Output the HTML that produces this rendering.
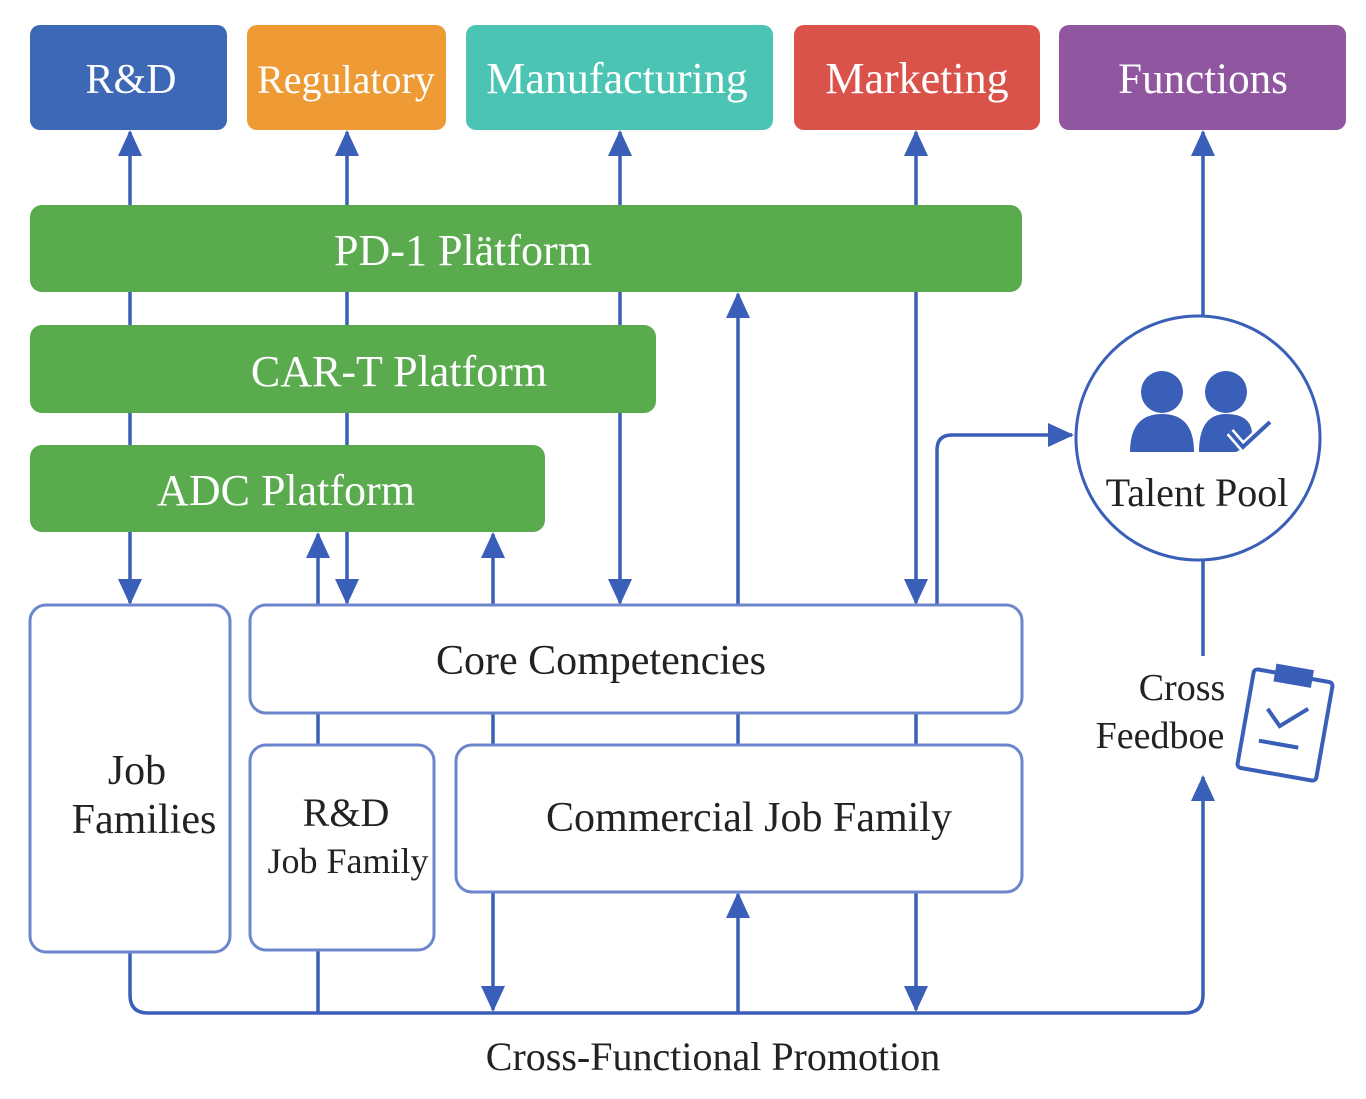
<!DOCTYPE html><html><head><style>body{margin:0;background:#fff}svg{display:block}text{font-family:"Liberation Serif",serif}</style></head><body>
<svg width="1366" height="1099" viewBox="0 0 1366 1099">
<defs>
<marker id="b" markerWidth="26" markerHeight="24" refX="24" refY="12" orient="auto" markerUnits="userSpaceOnUse"><path d="M0,0L26,12L0,24z" fill="#3a5fb8"/></marker></defs>
<g stroke="#3a5fb8" stroke-width="3.5" fill="none">
<line x1="130" y1="205" x2="130" y2="132" marker-end="url(#b)"/>
<line x1="347" y1="205" x2="347" y2="132" marker-end="url(#b)"/>
<line x1="620" y1="205" x2="620" y2="132" marker-end="url(#b)"/>
<line x1="916" y1="205" x2="916" y2="132" marker-end="url(#b)"/>
<line x1="1203" y1="316" x2="1203" y2="132" marker-end="url(#b)"/>
<line x1="130" y1="290" x2="130" y2="450"/>
<line x1="347" y1="290" x2="347" y2="450"/>
<line x1="130" y1="532" x2="130" y2="603" marker-end="url(#b)"/>
<line x1="347" y1="532" x2="347" y2="603" marker-end="url(#b)"/>
<line x1="620" y1="290" x2="620" y2="603" marker-end="url(#b)"/>
<line x1="916" y1="205" x2="916" y2="603" marker-end="url(#b)"/>
<line x1="738" y1="605" x2="738" y2="294" marker-end="url(#b)"/>
<line x1="318" y1="605" x2="318" y2="534" marker-end="url(#b)"/>
<line x1="493" y1="605" x2="493" y2="534" marker-end="url(#b)"/>
<path d="M937,605 V450 Q937,435 952,435 H1072" marker-end="url(#b)"/>
<line x1="1203" y1="560" x2="1203" y2="656"/>
<line x1="318" y1="713" x2="318" y2="745"/><line x1="493" y1="713" x2="493" y2="745"/><line x1="738" y1="713" x2="738" y2="745"/><line x1="916" y1="713" x2="916" y2="745"/>
<path d="M130,952 V995 Q130,1013 148,1013 H1185 Q1203,1013 1203,995 V777" marker-end="url(#b)"/>
<line x1="318" y1="950" x2="318" y2="1013"/>
<line x1="493" y1="892" x2="493" y2="1010" marker-end="url(#b)"/>
<line x1="916" y1="892" x2="916" y2="1010" marker-end="url(#b)"/>
<line x1="738" y1="1013" x2="738" y2="894" marker-end="url(#b)"/>
</g>
<g font-size="42" fill="#fff" text-anchor="middle">
<rect x="30" y="25" width="197" height="105" rx="10" fill="#3d68b5"/><text x="131" y="93">R&amp;D</text>
<rect x="247" y="25" width="199" height="105" rx="10" fill="#ee9a35"/><text x="346" y="93" font-size="40">Regulatory</text>
<rect x="466" y="25" width="307" height="105" rx="10" fill="#4cc4b3"/><text x="617" y="93" font-size="44">Manufacturing</text>
<rect x="794" y="25" width="246" height="105" rx="10" fill="#d9534a"/><text x="917" y="93" font-size="44">Marketing</text>
<rect x="1059" y="25" width="287" height="105" rx="10" fill="#9057a0"/><text x="1203" y="93" font-size="43">Functions</text>
<rect x="30" y="205" width="992" height="87" rx="12" fill="#5aaa4e"/><text x="463" y="265" font-size="44">PD-1 Plätform</text>
<rect x="30" y="325" width="626" height="88" rx="12" fill="#5aaa4e"/><text x="399" y="386" font-size="44">CAR-T Platform</text>
<rect x="30" y="445" width="515" height="87" rx="12" fill="#5aaa4e"/><text x="286" y="505" font-size="44">ADC Platform</text>
</g>
<g stroke="#6b86cc" stroke-width="3" fill="#fff">
<rect x="30" y="605" width="200" height="347" rx="16"/>
<rect x="250" y="605" width="772" height="108" rx="16"/>
<rect x="250" y="745" width="184" height="205" rx="16"/>
<rect x="456" y="745" width="566" height="147" rx="16"/>
<circle cx="1198" cy="438" r="122" stroke="#3a5fb8"/>
</g>
<g fill="#222" font-size="42" text-anchor="middle">
<text x="601" y="674">Core Competencies</text>
<text x="137" y="784">Job</text><text x="144" y="833">Families</text>
<text x="346" y="826" font-size="40">R&amp;D</text><text x="348" y="873" font-size="36">Job Family</text>
<text x="749" y="831">Commercial Job Family</text>
<text x="1197" y="506" font-size="40">Talent Pool</text>
<text x="1182" y="700" font-size="38">Cross</text><text x="1160" y="748" font-size="38">Feedboe</text>
<text x="713" y="1070" font-size="40">Cross-Functional Promotion</text>
</g>
<g fill="#3a5fb8">
<circle cx="1162" cy="392" r="21"/><path d="M1130,452 Q1130,414 1162,414 Q1194,414 1194,452z"/>
<circle cx="1226" cy="392" r="21"/><path d="M1199,452 Q1199,414 1226,414 Q1250,414 1252,432 L1240,450 L1236,452z"/>
</g>
<path d="M1230,432 L1243,447 L1270,422" stroke="#fff" stroke-width="9" fill="none"/>
<path d="M1230,432 L1243,447 L1270,422" stroke="#3a5fb8" stroke-width="4" fill="none"/>
<g transform="rotate(10 1285 725)" stroke="#3a5fb8" stroke-width="4" fill="none">
<rect x="1245" y="675" width="80" height="100" rx="4"/>
<rect x="1268" y="668" width="34" height="14" fill="#3a5fb8"/>
<path d="M1265,712 L1280,727 L1305,705"/><line x1="1262" y1="745" x2="1302" y2="745"/>
</g>
</svg></body></html>
